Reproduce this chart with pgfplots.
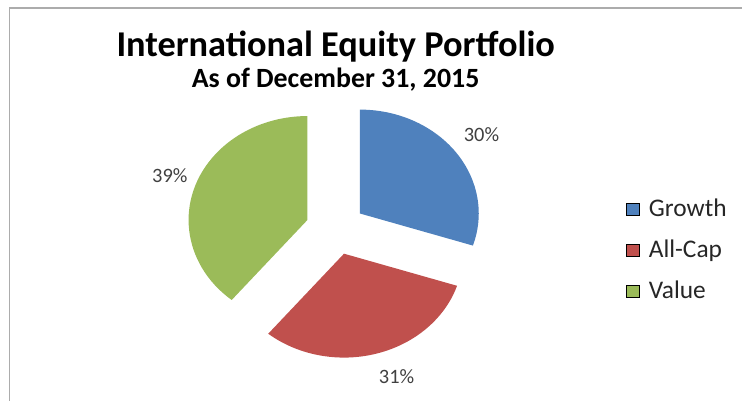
\documentclass[border=0pt]{standalone}
\usepackage{pgfplots}
\usepackage{pgfplotstable}
\pgfplotsset{compat=1.18}
\usepackage{fontspec}
\setmainfont{Carlito}
\definecolor{cGrowth}{HTML}{4F81BD}
\definecolor{cAllCap}{HTML}{C0504D}
\definecolor{cValue}{HTML}{9BBB59}
\definecolor{lbl}{HTML}{404040}

\pgfplotstableread{
label value
Growth 30
All-Cap 31
Value 39
}\piedata

\begin{document}
\begin{tikzpicture}
\pgfplotstablegetelem{0}{value}\of\piedata \let\vA\pgfplotsretval
\pgfplotstablegetelem{1}{value}\of\piedata \let\vB\pgfplotsretval
\pgfplotstablegetelem{2}{value}\of\piedata \let\vC\pgfplotsretval
\pgfmathsetmacro\sA{90}
\pgfmathsetmacro\eA{\sA-3.6*\vA}
\pgfmathsetmacro\eB{\eA-3.6*\vB}
\pgfmathsetmacro\eC{\eB-3.6*\vC}
\pgfmathsetmacro\mA{(\sA+\eA)/2}
\pgfmathsetmacro\mB{(\eA+\eB)/2}
\pgfmathsetmacro\mC{(\eB+\eC)/2}
\def\cx{336}\def\cy{172}\def\dx{30}\def\dy{26}\def\rx{119}\def\ry{104}
\newcommand\slice[4]{%
  \fill[#4] (axis cs:{\cx+\dx*cos(#3)},{\cy+\dy*sin(#3)})
    -- ++(#1:\rx bp and \ry bp)
    arc[start angle=#1,end angle=#2,x radius=\rx bp,y radius=\ry bp] -- cycle;}
\begin{axis}[
  width=743bp, height=401bp, scale only axis,
  xmin=0, xmax=743, ymin=0, ymax=401,
  hide axis, clip=false,
  legend cell align=left,
  legend image code/.code={\fill[#1] (0bp,-6bp) rectangle (13bp,6bp);},
  legend style={draw=none, fill=none, inner sep=0pt,
    at={(axis cs:626,200)}, anchor=north west,
    font=\fontsize{25.5}{30}\selectfont, text=black!85,
    row sep=25bp,
    nodes={inner ysep=0pt, inner xsep=10bp, text height=16bp, text depth=0bp}},
]
\path (axis cs:0,0) rectangle (axis cs:743,401);
\draw[gray!65, line width=1.6bp] (axis cs:9.5,0) -- (axis cs:9.5,393) -- (axis cs:743,393);

\slice{\sA}{\eA}{\mA}{cGrowth}
\slice{\eA}{\eB}{\mB}{cAllCap}
\slice{\eB}{\eC}{\mC}{cValue}

\addlegendimage{fill=cGrowth}\addlegendentry{Growth}
\addlegendimage{fill=cAllCap}\addlegendentry{All-Cap}
\addlegendimage{fill=cValue}\addlegendentry{Value}

\node[anchor=center, text=lbl, font=\fontsize{20.5}{24}\selectfont] at (axis cs:482,266) {\vA\%};
\node[anchor=center, text=lbl, font=\fontsize{20.5}{24}\selectfont] at (axis cs:397,24) {\vB\%};
\node[anchor=center, text=lbl, font=\fontsize{20.5}{24}\selectfont] at (axis cs:170,225) {\vC\%};

\node[anchor=base, font=\fontsize{36.5}{42}\selectfont\bfseries] at (axis cs:336,344) {International Equity Portfolio};
\node[anchor=base, font=\fontsize{28}{33}\selectfont\bfseries] at (axis cs:336,313) {As of December 31, 2015};
\end{axis}
\end{tikzpicture}
\end{document}
